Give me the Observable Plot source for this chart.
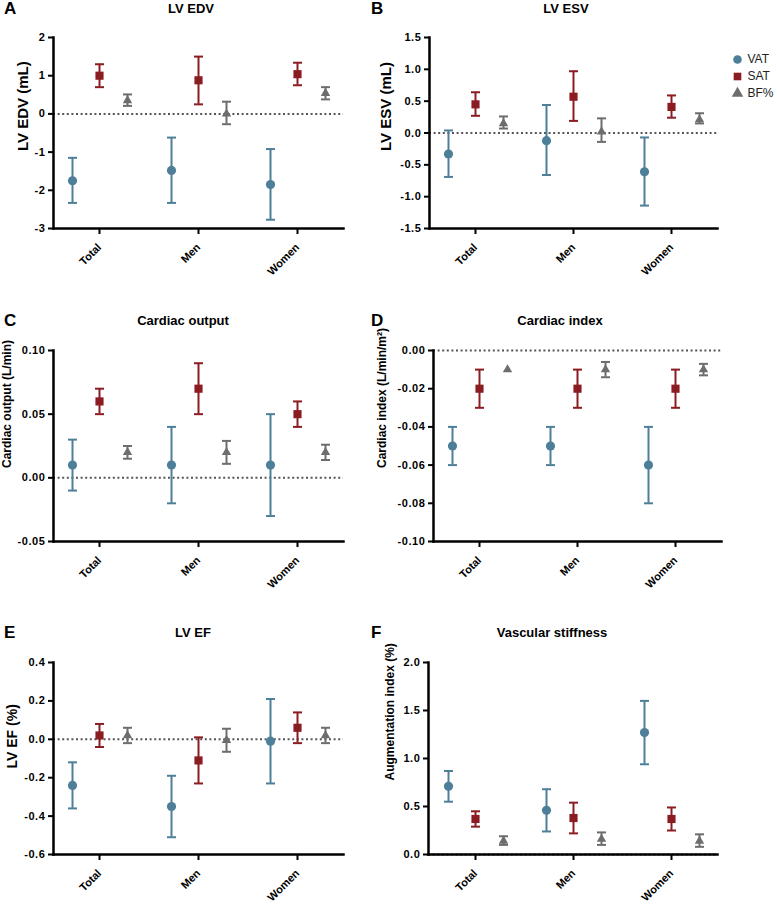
<!DOCTYPE html>
<html><head><meta charset="utf-8">
<script src="https://cdn.jsdelivr.net/npm/d3@7"></script>
<script src="https://cdn.jsdelivr.net/npm/@observablehq/plot@0.6"></script>
<style>
body{margin:0;background:#fff;font-family:"Liberation Sans",Arial,sans-serif;}
#root{position:relative;width:777px;height:907px;overflow:hidden;background:#fff;}
.panel{position:absolute;}
.panel svg{overflow:visible;}
.letter{position:absolute;font-weight:bold;font-size:17px;line-height:18px;color:#000;}
.title{position:absolute;font-weight:bold;font-size:13px;line-height:16px;color:#000;transform:translateX(-50%);white-space:nowrap;}
g[aria-label="y-axis tick label"] text{letter-spacing:0.6px;}
</style></head>
<body><div id="root"></div>
<script>
const categories = ["Total", "Men", "Women"];
const series = ["VAT", "SAT", "BF%"];
const seriesColors = ["#4e7f99", "#8b1c22", "#6d6d6d"];
const seriesSymbols = ["circle", "square", "triangle"];

// each row: [estimate, lower CI, upper CI] for Total, Men, Women
const lvEdvVAT = [[-1.75, -2.33, -1.15], [-1.48, -2.33, -0.62], [-1.85, -2.77, -0.92]];
const lvEdvSAT = [[1.0, 0.7, 1.3], [0.88, 0.25, 1.5], [1.04, 0.75, 1.34]];
const lvEdvBF = [[0.35, 0.21, 0.51], [0.0, -0.27, 0.32], [0.54, 0.38, 0.7]];

const lvEsvVAT = [[-0.33, -0.69, 0.04], [-0.12, -0.66, 0.44], [-0.61, -1.14, -0.07]];
const lvEsvSAT = [[0.45, 0.27, 0.64], [0.57, 0.19, 0.97], [0.41, 0.24, 0.59]];
const lvEsvBF = [[0.15, 0.07, 0.26], [0.02, -0.14, 0.23], [0.21, 0.15, 0.31]];

const coVAT = [[0.01, -0.01, 0.03], [0.01, -0.02, 0.04], [0.01, -0.03, 0.05]];
const coSAT = [[0.06, 0.05, 0.07], [0.07, 0.05, 0.09], [0.05, 0.04, 0.06]];
const coBF = [[0.02, 0.015, 0.025], [0.02, 0.011, 0.029], [0.02, 0.014, 0.026]];

const ciVAT = [[-0.05, -0.06, -0.04], [-0.05, -0.06, -0.04], [-0.06, -0.08, -0.04]];
const ciSAT = [[-0.02, -0.03, -0.01], [-0.02, -0.03, -0.01], [-0.02, -0.03, -0.01]];
const ciBF = [[-0.01, -0.01, -0.01], [-0.01, -0.014, -0.006], [-0.01, -0.013, -0.007]];

const efVAT = [[-0.24, -0.36, -0.12], [-0.35, -0.51, -0.19], [-0.01, -0.23, 0.21]];
const efSAT = [[0.02, -0.04, 0.08], [-0.11, -0.23, 0.01], [0.06, -0.02, 0.14]];
const efBF = [[0.02, -0.02, 0.06], [-0.005, -0.065, 0.055], [0.02, -0.02, 0.06]];

const aixVAT = [[0.71, 0.55, 0.87], [0.46, 0.24, 0.68], [1.27, 0.94, 1.6]];
const aixSAT = [[0.37, 0.29, 0.45], [0.38, 0.22, 0.54], [0.37, 0.25, 0.49]];
const aixBF = [[0.14, 0.1, 0.19], [0.16, 0.1, 0.23], [0.14, 0.08, 0.21]];

const ticksEdv = [-3, -2, -1, 0, 1, 2];
const ticksEsv = [-1.5, -1.0, -0.5, 0, 0.5, 1.0, 1.5];
const ticksCo = [-0.05, 0, 0.05, 0.10];
const ticksCi = [-0.10, -0.08, -0.06, -0.04, -0.02, 0];
const ticksEf = [-0.6, -0.4, -0.2, 0, 0.2, 0.4];
const ticksAix = [0, 0.5, 1.0, 1.5, 2.0];

const panels = [
  {letter: "A", title: "LV EDV", label: "LV EDV (mL)", data: [lvEdvVAT, lvEdvSAT, lvEdvBF], ticks: ticksEdv, digits: 0,
   left: 0, top: 0, width: 385, height: 300, ml: 53, mr: 42, mt: 37, mb: 72, labelDx: -30, labelDy: 18, labelSize: 15,
   letterX: 4, letterY: 0, titleX: 191, titleY: 1},
  {letter: "B", title: "LV ESV", label: "LV ESV (mL)", data: [lvEsvVAT, lvEsvSAT, lvEsvBF], ticks: ticksEsv, digits: 1,
   left: 372, top: 0, width: 405, height: 300, ml: 57, mr: 60, mt: 37, mb: 72, labelDx: -43, labelDy: 18, labelSize: 15,
   letterX: 371, letterY: 0, titleX: 566, titleY: 1},
  {letter: "C", title: "Cardiac output", label: "Cardiac output (L/min)", data: [coVAT, coSAT, coBF], ticks: ticksCo, digits: 2,
   left: 0, top: 300, width: 385, height: 300, ml: 53, mr: 42, mt: 50, mb: 59, labelDx: -46, labelDy: 22, labelSize: 12,
   letterX: 4, letterY: 312, titleX: 183, titleY: 313},
  {letter: "D", title: "Cardiac index", label: "Cardiac index (L/min/m²)", data: [ciVAT, ciSAT, ciBF], ticks: ticksCi, digits: 2,
   left: 372, top: 300, width: 405, height: 300, ml: 61, mr: 56, mt: 50, mb: 59, labelDx: -51, labelDy: 22, labelSize: 12,
   letterX: 371, letterY: 312, titleX: 560, titleY: 313},
  {letter: "E", title: "LV EF", label: "LV EF (%)", data: [efVAT, efSAT, efBF], ticks: ticksEf, digits: 1,
   left: 0, top: 600, width: 385, height: 307, ml: 53, mr: 42, mt: 62, mb: 53, labelDx: -41, labelDy: 10, labelSize: 14,
   letterX: 4, letterY: 624, titleX: 193, titleY: 625},
  {letter: "F", title: "Vascular stiffness", label: "Augmentation index (%)", data: [aixVAT, aixSAT, aixBF], ticks: ticksAix, digits: 1,
   left: 372, top: 600, width: 405, height: 307, ml: 56, mr: 60, mt: 62, mb: 53, labelDx: -38, labelDy: 22, labelSize: 12,
   letterX: 371, letterY: 624, titleX: 552, titleY: 625}
];

const seriesDx = [-27, 0, 28];
const seriesR = [4.6, 4.6, 3.5];

const capSymbol = {
  draw(context, size) {
    const w = Math.sqrt(size / Math.PI);
    context.moveTo(-w, 0);
    context.lineTo(w, 0);
  }
};

const root = document.getElementById("root");

for (const p of panels) {
  const marks = [];
  marks.push(Plot.ruleY([0], {stroke: "#555", strokeWidth: 2, strokeDasharray: "2,2.6"}));
  series.forEach((s, k) => {
    const rows = categories.map((c, i) => ({cat: c, est: p.data[k][i][0], lo: p.data[k][i][1], hi: p.data[k][i][2]}));
    const col = seriesColors[k];
    const withBars = rows.filter(d => d.hi !== d.lo);
    marks.push(Plot.ruleX(withBars, {x: "cat", y1: "lo", y2: "hi", stroke: col, strokeWidth: 2, dx: seriesDx[k]}));
    marks.push(Plot.dot(withBars, {x: "cat", y: "lo", symbol: capSymbol, r: 4.5, fill: "none", stroke: col, strokeWidth: 2, dx: seriesDx[k]}));
    marks.push(Plot.dot(withBars, {x: "cat", y: "hi", symbol: capSymbol, r: 4.5, fill: "none", stroke: col, strokeWidth: 2, dx: seriesDx[k]}));
    marks.push(Plot.dot(rows, {x: "cat", y: "est", symbol: seriesSymbols[k], r: seriesR[k], fill: col, stroke: "none", dx: seriesDx[k]}));
  });
  marks.push(Plot.frame({anchor: "left", stroke: "#000", strokeWidth: 2.5}));
  marks.push(Plot.frame({anchor: "bottom", stroke: "#000", strokeWidth: 2.5}));
  marks.push(Plot.axisY({ticks: p.ticks, tickFormat: d => d.toFixed(p.digits), tickSize: 5, tickPadding: 3, strokeWidth: 2, label: null, fontSize: 11, fontWeight: "bold"}));
  marks.push(Plot.axisX({tickSize: 6, tickRotate: -45, tickPadding: 11, strokeWidth: 2, label: null, fontSize: 11, fontWeight: "bold"}));
  marks.push(Plot.text([p.label], {text: d => d, frameAnchor: "left", rotate: -90, dx: p.labelDx, dy: p.labelDy, fontSize: p.labelSize, fontWeight: "bold", fill: "#000"}));

  const chart = Plot.plot({
    width: p.width,
    height: p.height,
    marginLeft: p.ml,
    marginRight: p.mr,
    marginTop: p.mt,
    marginBottom: p.mb,
    style: {fontFamily: "'Liberation Sans', Arial, sans-serif", color: "#000", background: "transparent", overflow: "visible"},
    x: {type: "point", domain: categories, padding: 0.46},
    y: {domain: [p.ticks[0], p.ticks[p.ticks.length - 1]]},
    marks
  });
  const div = document.createElement("div");
  div.className = "panel";
  div.style.left = p.left + "px";
  div.style.top = p.top + "px";
  div.style.width = p.width + "px";
  div.appendChild(chart);
  root.appendChild(div);
}

for (const p of panels) {
  const l = document.createElement("div");
  l.className = "letter";
  l.textContent = p.letter;
  l.style.left = p.letterX + "px";
  l.style.top = p.letterY + "px";
  root.appendChild(l);
  const t = document.createElement("div");
  t.className = "title";
  t.textContent = p.title;
  t.style.left = p.titleX + "px";
  t.style.top = p.titleY + "px";
  root.appendChild(t);
}

// legend
const legend = Plot.plot({
  width: 44, height: 80, margin: 0,
  style: {fontFamily: "'Liberation Sans', Arial, sans-serif", background: "transparent", overflow: "visible"},
  y: {type: "point", domain: series, range: [14, 66], axis: null},
  color: {domain: series, range: seriesColors},
  symbol: {domain: series, range: seriesSymbols},
  marks: [
    Plot.dot(series, {y: d => d, fill: d => d, symbol: d => d, r: 4.3, frameAnchor: "left", dx: 5}),
    Plot.text(series, {y: d => d, text: d => d, frameAnchor: "left", dx: 15, textAnchor: "start", fontSize: 12, fill: "#222"})
  ]
});
const ld = document.createElement("div");
ld.className = "panel";
ld.style.left = "732px";
ld.style.top = "36px";
ld.style.width = "44px";
ld.appendChild(legend);
root.appendChild(ld);
</script>
</body></html>
